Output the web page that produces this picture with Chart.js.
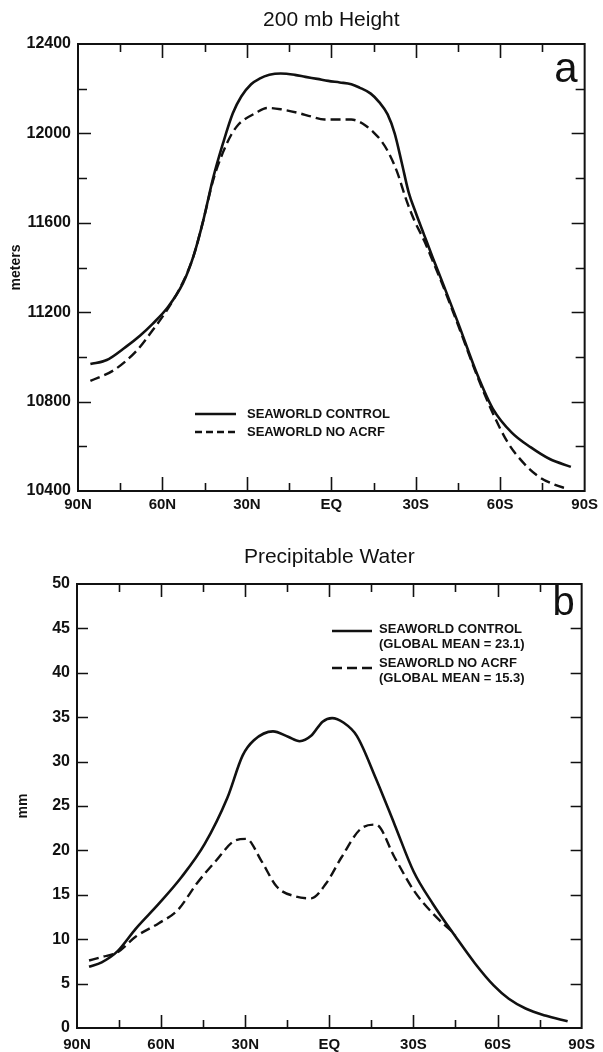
<!DOCTYPE html>
<html>
<head>
<meta charset="utf-8">
<script src="https://cdn.jsdelivr.net/npm/chart.js@4.4.1/dist/chart.umd.min.js"></script>
<style>
  html, body { margin: 0; padding: 0; background: #fff; }
  #wrap { position: relative; width: 603px; height: 1052px; }
  .panel { position: absolute; left: 0; width: 603px; }
  #pa { top: 0; height: 525px; }
  #pb { top: 525px; height: 527px; }
</style>
</head>
<body>
<div id="wrap">
  <div class="panel" id="pa"><canvas id="chartA"></canvas></div>
  <div class="panel" id="pb"><canvas id="chartB"></canvas></div>
</div>
<script>
// Latitudes in degrees, positive = north
const latHeightControl = [85.6, 79.8, 73, 68, 63.5, 58.1, 52.7, 49, 45.5, 42, 38.5, 35, 32, 28.5, 25.5, 22, 18, 13, 9.2, 5, 1.1, -3, -7.1, -10, -14, -17, -20, -22.5, -25, -27.5, -30, -33, -36, -39.6, -45.1, -51.9, -57.3, -64.1, -70.9, -77.6, -85.1];
const heightControl    = [10968, 10986, 11045, 11095, 11148, 11222, 11330, 11450, 11610, 11800, 11955, 12090, 12165, 12220, 12245, 12262, 12268, 12262, 12253, 12244, 12235, 12228, 12220, 12205, 12178, 12140, 12085, 12000, 11870, 11735, 11645, 11545, 11445, 11330, 11150, 10920, 10770, 10661, 10595, 10543, 10508];

const latHeightNoAcrf  = [85.6, 77.1, 69, 63.5, 58.1, 52.7, 49, 45.5, 42, 38.5, 35.5, 33, 30.9, 27, 22.8, 18, 11.9, 7, 2.4, -2.5, -7.1, -10, -12.5, -15, -17.9, -20.5, -23.3, -26.7, -29.5, -33, -36, -39.6, -45.1, -51.9, -57.3, -62.7, -68.1, -73.6, -79, -84];
const heightNoAcrf     = [10893, 10942, 11030, 11119, 11215, 11335, 11450, 11610, 11790, 11915, 11995, 12040, 12062, 12090, 12114, 12108, 12092, 12075, 12062, 12062, 12062, 12052, 12032, 12005, 11964, 11910, 11830, 11700, 11610, 11520, 11430, 11320, 11140, 10912, 10750, 10617, 10528, 10465, 10430, 10409];

const latWaterControl  = [85.7, 81.2, 75.7, 69, 60.8, 52.7, 44.5, 36.4, 30.9, 26.9, 20.1, 14.7, 10.6, 6.5, 2.4, -1, -5, -9.8, -16.6, -23.3, -30.1, -36.9, -45, -51.9, -58.6, -64, -70, -77, -85];
const waterControl     = [6.9, 7.4, 8.6, 11.2, 14.0, 17.0, 20.7, 25.9, 30.7, 32.4, 33.4, 32.8, 32.3, 32.9, 34.5, 34.9, 34.4, 32.9, 28.1, 22.9, 17.6, 14.0, 10.3, 7.3, 4.8, 3.3, 2.2, 1.4, 0.75];

const latWaterNoAcrf   = [85.7, 81.2, 75.7, 69, 60.8, 54, 47.2, 40.5, 33.7, 29.6, 24.2, 18.7, 11.9, 6.5, 1.1, -4.3, -11.1, -16.6, -23.3, -30.1, -36.9, -45];
const waterNoAcrf      = [7.6, 8.0, 8.5, 10.3, 11.8, 13.3, 16.3, 18.8, 21.1, 21.3, 18.8, 15.9, 14.8, 14.6, 16.3, 19.2, 22.4, 22.9, 19.2, 15.5, 12.9, 10.5];

// Axis tick labels
const latTickLabels = { '90': '90N', '60': '60N', '30': '30N', '0': 'EQ', '-30': '30S', '-60': '60S', '-90': '90S' };
const heightTickStep = 200;
const heightLabelStep = 400;
const waterTickStep = 5;

const INK = '#111';
const FONT = '"Liberation Sans", Arial, Helvetica, sans-serif';

function toPoints(xs, ys) { return xs.map((x, i) => ({ x: x, y: ys[i] })); }

// Box frame with inward tick marks on all four sides
const framePlugin = {
  id: 'frame',
  afterDatasetsDraw(chart, args, opts) {
    const { ctx, chartArea: a, scales } = chart;
    ctx.save();
    ctx.strokeStyle = INK;
    ctx.lineWidth = 1.6;
    ctx.beginPath();
    scales.x.ticks.forEach(t => {
      if (Math.abs(t.value) === 90) return;
      const px = Math.round(scales.x.getPixelForValue(t.value)) + 0.5;
      const len = (t.value % 30 === 0) ? opts.xMajor : opts.xMinor;
      ctx.moveTo(px, a.bottom); ctx.lineTo(px, a.bottom - len);
      ctx.moveTo(px, a.top); ctx.lineTo(px, a.top + len);
    });
    scales.y.ticks.forEach(t => {
      if (t.value === scales.y.min || t.value === scales.y.max) return;
      const py = Math.round(scales.y.getPixelForValue(t.value)) + 0.5;
      const len = t.label !== '' ? opts.yMajor : opts.yMinor;
      ctx.moveTo(a.left, py); ctx.lineTo(a.left + len, py);
      ctx.moveTo(a.right, py); ctx.lineTo(a.right - len, py);
    });
    ctx.stroke();
    ctx.lineWidth = 2;
    ctx.strokeRect(a.left, a.top, a.right - a.left, a.bottom - a.top);
    ctx.restore();
  }
};

// Heading, panel letter and in-plot key
const textPlugin = {
  id: 'texts',
  afterDraw(chart, args, opts) {
    const { ctx, chartArea: a } = chart;
    ctx.save();
    ctx.fillStyle = INK;
    ctx.textAlign = 'center';
    ctx.textBaseline = 'middle';
    ctx.font = '21px ' + FONT;
    ctx.fillText(opts.title, (a.left + a.right) / 2, opts.titleY);

    ctx.textAlign = 'right';
    ctx.textBaseline = 'alphabetic';
    ctx.font = opts.letterSize + 'px ' + FONT;
    ctx.fillText(opts.letter, a.right - 7, opts.letterY);

    ctx.font = 'bold 13px ' + FONT;
    ctx.textAlign = 'left';
    ctx.textBaseline = 'middle';
    opts.keys.forEach(k => {
      ctx.strokeStyle = INK;
      ctx.lineWidth = 2.5;
      ctx.setLineDash(k.dash);
      ctx.beginPath();
      ctx.moveTo(opts.keyX0, k.y); ctx.lineTo(opts.keyX1, k.y);
      ctx.stroke();
      ctx.setLineDash([]);
      k.lines.forEach((txt, j) => ctx.fillText(txt, opts.keyTextX, k.textY + j * opts.keyLineGap));
    });
    ctx.restore();
  }
};

function makeChart(id, cfg) {
  return new Chart(document.getElementById(id), {
    type: 'line',
    data: {
      datasets: [
        { data: cfg.solid, borderColor: INK, borderWidth: 2.6, pointRadius: 0, cubicInterpolationMode: 'monotone', fill: false },
        { data: cfg.dashed, borderColor: INK, borderWidth: 2.4, borderDash: [10, 5], pointRadius: 0, cubicInterpolationMode: 'monotone', fill: false }
      ]
    },
    options: {
      responsive: true,
      maintainAspectRatio: false,
      devicePixelRatio: 1,
      animation: false,
      events: [],
      layout: { padding: cfg.padding },
      plugins: {
        legend: { display: false },
        tooltip: { enabled: false },
        frame: cfg.frame,
        texts: cfg.texts
      },
      scales: {
        x: {
          type: 'linear',
          min: -90, max: 90,
          reverse: true,
          grid: { display: false, drawTicks: false },
          border: { display: false },
          ticks: {
            stepSize: 15,
            autoSkip: false,
            maxRotation: 0,
            padding: cfg.xPad,
            color: INK,
            font: { family: FONT, size: 15, weight: 'bold' },
            callback: v => latTickLabels[String(v)] || ''
          },
          afterFit: s => { s.height = cfg.xHeight; }
        },
        y: {
          type: 'linear',
          min: cfg.yMin, max: cfg.yMax,
          grid: { display: false, drawTicks: false },
          border: { display: false },
          title: {
            display: true,
            text: cfg.yTitle,
            color: INK,
            font: { family: FONT, size: 14, weight: 'bold' },
            padding: { top: cfg.yTitlePad, bottom: 0 }
          },
          ticks: {
            stepSize: cfg.yStep,
            autoSkip: false,
            padding: 7,
            color: INK,
            font: { family: FONT, size: 16, weight: 'bold' },
            callback: cfg.yLabel
          },
          afterFit: s => { s.width = cfg.yWidth; }
        }
      }
    },
    plugins: [framePlugin, textPlugin]
  });
}

makeChart('chartA', {
  solid: toPoints(latHeightControl, heightControl),
  dashed: toPoints(latHeightNoAcrf, heightNoAcrf),
  padding: { top: 44, right: 15, left: 0, bottom: 0 },
  xHeight: 34, xPad: 5, yWidth: 78,
  yMin: 10400, yMax: 12400, yStep: heightTickStep,
  yLabel: v => (v % heightLabelStep === 0 ? String(v) : ''),
  yTitle: 'meters', yTitlePad: 8,
  frame: { xMajor: 14, xMinor: 8, yMajor: 13, yMinor: 9 },
  texts: {
    title: '200 mb Height', titleY: 20,
    letter: 'a', letterSize: 42, letterY: 82,
    keyX0: 195, keyX1: 236, keyTextX: 247, keyLineGap: 0,
    keys: [
      { y: 414, textY: 414, dash: [], lines: ['SEAWORLD CONTROL'] },
      { y: 432, textY: 432, dash: [7, 4], lines: ['SEAWORLD NO ACRF'] }
    ]
  }
});

makeChart('chartB', {
  solid: toPoints(latWaterControl, waterControl),
  dashed: toPoints(latWaterNoAcrf, waterNoAcrf),
  padding: { top: 59, right: 16, left: 0, bottom: 0 },
  xHeight: 24, xPad: 8, yWidth: 77,
  yMin: 0, yMax: 50, yStep: waterTickStep,
  yLabel: v => String(v),
  yTitle: 'mm', yTitlePad: 15,
  frame: { xMajor: 13, xMinor: 8, yMajor: 11, yMinor: 11 },
  texts: {
    title: 'Precipitable Water', titleY: 32,
    letter: 'b', letterSize: 40, letterY: 90,
    keyX0: 332, keyX1: 372, keyTextX: 379, keyLineGap: 15.5,
    keys: [
      { y: 106, textY: 104, dash: [], lines: ['SEAWORLD CONTROL', '(GLOBAL MEAN = 23.1)'] },
      { y: 143, textY: 138, dash: [10, 5], lines: ['SEAWORLD NO ACRF', '(GLOBAL MEAN = 15.3)'] }
    ]
  }
});
</script>
</body>
</html>
